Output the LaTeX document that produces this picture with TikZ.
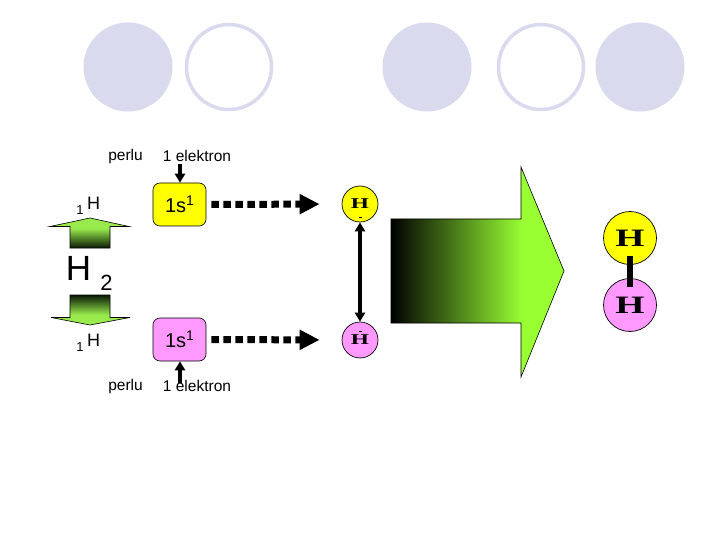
\documentclass[tikz,border=0pt]{standalone}
\usepackage{fontspec}
\setmainfont{Liberation Sans}
\newfontfamily\hserif{Liberation Serif}
\usetikzlibrary{arrows.meta}
\definecolor{lav}{RGB}{218,218,238}
\definecolor{ygl}{RGB}{255,255,0}
\definecolor{pnk}{RGB}{255,153,255}
\definecolor{lgr}{RGB}{153,255,51}
\definecolor{wing}{RGB}{153,235,77}
\definecolor{dk}{RGB}{10,25,5}
\newcommand{\fs}[1]{\fontsize{#1}{#1}\selectfont}
\newcommand{\wideH}[1]{\scalebox{#1}[1]{H}}
\newcommand{\orb}{1s\raisebox{7pt}{\fs{14}1}}
\pgfdeclarehorizontalshading{bigarr}{100bp}{color(0bp)=(black); color(25bp)=(black); color(63bp)=(lgr); color(100bp)=(lgr)}
\pgfdeclareverticalshading{upblk}{100bp}{color(0bp)=(dk); color(25bp)=(dk); color(58bp)=(wing); color(100bp)=(wing)}
\pgfdeclareverticalshading{dnblk}{100bp}{color(0bp)=(wing); color(42bp)=(wing); color(75bp)=(dk); color(100bp)=(dk)}
\tikzset{
  lavdisc/.style={circle,fill=lav,draw=lav,line width=1pt,minimum size=88pt,inner sep=0pt},
  lavring/.style={circle,fill=white,draw=lav,line width=3.5pt,minimum size=85pt,inner sep=0pt},
  orbbox/.style={rectangle,rounded corners=7pt,draw=black,line width=0.6pt,minimum width=53pt,minimum height=43pt,inner sep=0pt,font=\fs{20}},
  atomS/.style={circle,draw=black,line width=0.7pt,minimum size=36pt,inner sep=0pt,font=\hserif\bfseries\fs{15}},
  atomL/.style={circle,draw=black,line width=0.7pt,minimum size=53pt,inner sep=0pt,font=\hserif\bfseries\fs{25}},
  lbl/.style={inner sep=0pt,font=\fs{15.5}},
  pusharrow/.style={line width=4pt,-{Triangle[length=9pt,width=10pt]}},
  dasharrow/.style={line width=7pt,dash pattern=on 7.5pt off 4.5pt,-{Triangle[length=20pt,width=19pt]}},
  bondarrow/.style={line width=4.5pt,{Triangle[length=9pt,width=10pt]}-{Triangle[length=9pt,width=10pt]}},
  edge/.style={draw=black,line width=0.6pt},
}
\begin{document}
\begin{tikzpicture}[x=1pt,y=-1pt]
\useasboundingbox (0,0) rectangle (720,540);
\fill[white] (0,0) rectangle (720,540);
% decorative circles
\node[lavdisc] (c1) at (128,67) {};
\node[lavring] (c2) at (229,67) {};
\node[lavdisc] (c3) at (427,67) {};
\node[lavring] (c4) at (541,67) {};
\node[lavdisc] (c5) at (640,67) {};
% left block arrows
\shadedraw[shading=upblk,edge] (50,226.5) -- (90,218) -- (129,226.5) -- (110,226.5) -- (110,248) -- (70,248) -- (70,226.5) -- cycle;
\shadedraw[shading=dnblk,edge] (70,295) -- (110,295) -- (110,317.5) -- (130,317.5) -- (90,325) -- (51,317.5) -- (70,317.5) -- cycle;
% H labels
\node[inner sep=0pt,font=\fs{35}] (h2) at (78.5,268) {H};
\node[inner sep=0pt,font=\fs{22}] (h2sub) at (106.5,283) {2};
\node[lbl,font=\fs{18}] (h1a) at (93.5,203) {H};
\node[lbl,font=\fs{13}] (n1a) at (80,210) {1};
\node[lbl,font=\fs{18}] (h1b) at (93.5,340) {H};
\node[lbl,font=\fs{13}] (n1b) at (80,347) {1};
% orbital boxes
\node[orbbox,fill=ygl] (b1) at (179.5,204.5) {\orb};
\node[orbbox,fill=pnk] (b2) at (179.5,339.5) {\orb};
% labels
\node[lbl] (p1) at (125.5,156) {perlu};
\node[lbl] (e1) at (197,156) {1 elektron};
\node[lbl] (p2) at (125.5,386) {perlu};
\node[lbl] (e2) at (197,386) {1 elektron};
\coordinate (t1) at (180,164);
\coordinate (t2) at (180,383);
\draw[pusharrow] (t1) -- (t1 |- b1.north);
\draw[pusharrow] (t2) -- (t2 |- b2.south);
% atoms
\node[atomS,fill=ygl] (a1) at (360,204) {\wideH{1.55}};
\node[atomS,fill=pnk] (a2) at (360,340) {\wideH{1.55}};
\fill (358.5,217.5) rectangle (361.5,218.5);
\fill (358.5,330.5) rectangle (361.5,331.5);
\draw[dasharrow,shorten <=5pt,shorten >=22pt] (b1.east) -- (a1.west);
\draw[dasharrow,shorten <=5pt,shorten >=22pt] (b2.east) -- (a2.west);
\draw[bondarrow] (a1.south) -- (a2.north);
% big arrow
\shadedraw[shading=bigarr,edge] (391,219) -- (521,219) -- (521,167) -- (564,271) -- (521,377) -- (521,323) -- (391,323) -- cycle;
% molecule
\node[atomL,fill=ygl] (m1) at (630,238) {\wideH{1.5}};
\node[atomL,fill=pnk] (m2) at (630,305) {\wideH{1.5}};
\draw[line width=6pt,shorten <=-9pt,shorten >=-9pt] (m1.south) -- (m2.north);
\end{tikzpicture}
\end{document}
